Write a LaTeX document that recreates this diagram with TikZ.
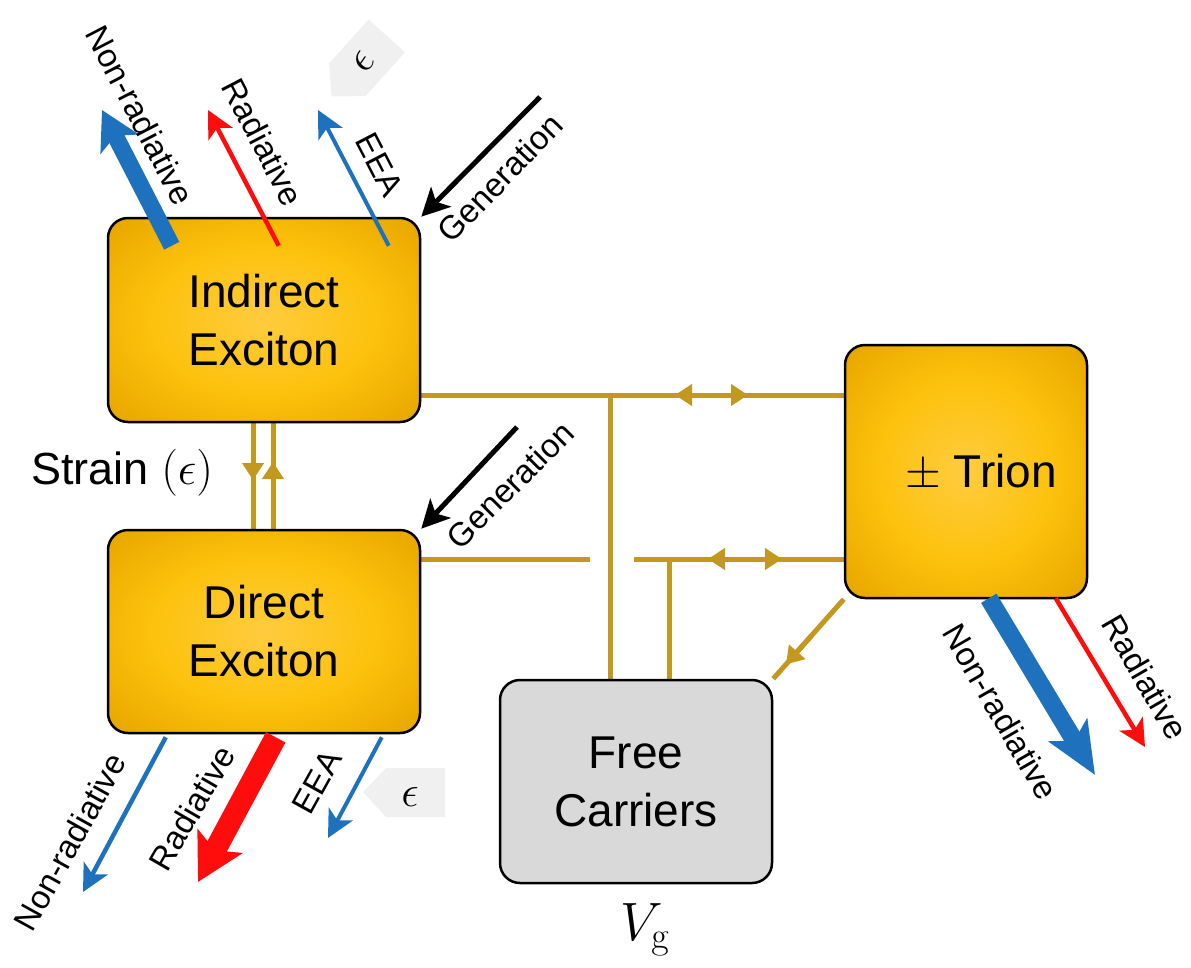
\documentclass[tikz,border=0pt]{standalone}
\usepackage{fix-cm}
\usepackage[no-math]{fontspec}
\setmainfont{Liberation Sans}
\usetikzlibrary{arrows.meta,calc,backgrounds}
\definecolor{ygold}{RGB}{195,152,30}
\definecolor{eblue}{RGB}{30,114,189}
\definecolor{ered}{RGB}{255,12,12}
\definecolor{taggray}{RGB}{240,240,240}
\definecolor{fcgray}{RGB}{217,217,217}
\pgfdeclareradialshading{boxshade}{\pgfpoint{0bp}{0bp}}{rgb(0bp)=(1,0.80,0.25); rgb(18bp)=(0.99,0.76,0.05); rgb(32bp)=(0.92,0.67,0); rgb(42bp)=(0.80,0.58,0); rgb(50bp)=(0.70,0.51,0); rgb(71bp)=(0.52,0.38,0)}
\tikzset{
  ybox/.style={draw=black, line width=2.5pt, rounded corners=20pt, shading=boxshade, inner sep=0pt},
  fcbox/.style={draw=black, line width=2.5pt, rounded corners=20pt, fill=fcgray, inner sep=0pt},
  btxt/.style={font=\fontsize{46}{58}\selectfont, align=center},
  lbl/.style={font=\fontsize{33}{38}\selectfont, inner sep=0pt},
  epsl/.style={font=\fontsize{44}{50}\selectfont, inner sep=0pt},
  yline/.style={draw=ygold, line width=5pt},
  ytip/.style={yline, -{Triangle[length=17pt,width=21pt]}},
  emthin/.style={line width=4.5pt, -{Stealth[length=27pt,width=27pt,inset=7pt]}},
  gen/.style={draw=black, line width=5pt, -{Stealth[length=28pt,width=28pt,inset=7pt]}},
  tagfill/.style={fill=taggray}
}
\begin{document}
\begin{tikzpicture}[x=1pt,y=-1pt]
\useasboundingbox (0,0) rectangle (1191,967);

% boxes
\node[ybox, btxt, minimum width=312pt, minimum height=204pt] (ind) at (264,320) {Indirect\\Exciton};
\node[ybox, btxt, minimum width=312pt, minimum height=203pt] (dir) at (264,631.5) {Direct\\Exciton};
\node[ybox, minimum width=242pt, minimum height=253pt] (trion) at (966,471.5) {};
\node[btxt] (triont) at (981,473) {$\pm$ Trion};
\node[fcbox, btxt, minimum width=272pt, minimum height=203pt] (free) at (636,781.5) {Free\\Carriers};

% helper coordinates
\coordinate (hy1) at (0,395);
\coordinate (hy2) at (0,559);
\coordinate (j1) at (610,395);
\coordinate (j2) at (669,559);
\coordinate (g1) at (590,559);
\coordinate (g2) at (634,559);

% yellow connectors
\begin{scope}[on background layer]
\draw[yline] (ind.east |- hy1) -- (trion.west |- hy1);
\draw[yline] (dir.east |- hy2) -- (g1);
\draw[yline] (g2) -- (trion.west |- hy2);
\draw[yline] (j1) -- (j1 |- free.north);
\draw[yline] (j2) -- (j2 |- free.north);
\draw[yline] (trion.south west) -- (free.north east);
\draw[yline] ($(ind.south)+(-11,0)$) -- ($(dir.north)+(-11,0)$);
\draw[yline] ($(ind.south)+(9,0)$) -- ($(dir.north)+(9,0)$);
\end{scope}
\draw[ytip] (705,395) -- (675,395);
\draw[ytip] (715,395) -- (748,395);
\draw[ytip] (740,559) -- (708,559);
\draw[ytip] (750,559) -- (782,559);
\draw[ytip] (253,440) -- (253,480);
\draw[ytip] (273,500) -- (273,462);
\draw[ytip] ($(trion.south west)!0.45!(free.north east)$) -- ($(trion.south west)!0.82!(free.north east)$);

% strain label
\node[anchor=west, inner sep=0pt] (strain) at (31,473) {\fontsize{45}{50}\selectfont Strain \fontsize{47}{50}\selectfont$(\epsilon)$};

% epsilon tags
\begin{scope}[shift={(404,792)}]
\fill[tagfill] (-41,0) -- (-18,-24) -- (41,-24) -- (41,25) -- (-18,25) -- cycle;
\end{scope}
\node[epsl] (eps1) at (410,797) {$\epsilon$};
\begin{scope}[shift={(359,66)}, rotate=48]
\fill[tagfill] (-41,0) -- (-18,-24) -- (41,-24) -- (41,25) -- (-18,25) -- cycle;
\end{scope}
\node[epsl, rotate=55] (eps2) at (364,62) {$\epsilon$};

% emission coordinates
\coordinate (tnr) at (102,110);
\coordinate (trad) at (208,110);
\coordinate (teea) at (318,110);
\coordinate (bnr) at (83,892);
\coordinate (brad) at (198,882);
\coordinate (beea) at (328,838);
\coordinate (rnr) at (1095,775);
\coordinate (rrad) at (1145,747);
\coordinate (gen1) at (540,97);
\coordinate (gen2) at (517,427);

% indirect exciton arrows
\draw[eblue, line width=17pt, -{Stealth[length=38pt,width=42pt,inset=9pt]}] ($(ind.north west)+(65,29)$) -- (tnr);
\draw[ered, emthin] ($(ind.north west)+(172,29)$) -- (trad);
\draw[eblue, emthin, line width=4pt] ($(ind.north west)+(282,29)$) -- (teea);
\draw[gen] (gen1) -- (ind.north east);
\draw[gen] (gen2) -- (dir.north east);

% direct exciton arrows
\draw[eblue, emthin] ($(dir.south west)+(59,3)$) -- (bnr);
\draw[ered, line width=22pt, -{Stealth[length=46pt,width=50pt,inset=10pt]}] ($(dir.south west)+(169,3)$) -- (brad);
\draw[eblue, emthin, line width=4pt] ($(dir.south west)+(275,3)$) -- (beea);

% trion arrows
\draw[eblue, line width=18pt, -{Stealth[length=52pt,width=44pt,inset=12pt]}] ($(trion.south west)+(145,-1)$) -- (rnr);
\draw[ered, emthin] ($(trion.south west)+(212,-1)$) -- (rrad);

% labels
\node[lbl, rotate=-62.6] (l1) at (140,115) {Non-radiative};
\node[lbl, rotate=-62.6] (l2) at (263,142) {Radiative};
\node[lbl, rotate=-62.6] (l3) at (380,165) {EEA};
\node[lbl, rotate=46] (l4) at (500,178) {Generation};
\node[lbl, rotate=45] (l5) at (510,485) {Generation};
\node[lbl, rotate=61] (l6) at (70,842) {Non-radiative};
\node[lbl, rotate=60] (l7) at (192,808) {Radiative};
\node[lbl, rotate=61] (l8) at (317,782) {EEA};
\node[lbl, rotate=-60] (l9) at (1001,712) {Non-radiative};
\node[lbl, rotate=-60] (l10) at (1145,677) {Radiative};

% gate voltage
\node[anchor=base, inner sep=0pt] (vg) at (645,940) {\fontsize{54}{60}\selectfont$V_{\mathrm{g}}$};
\end{tikzpicture}
\end{document}
